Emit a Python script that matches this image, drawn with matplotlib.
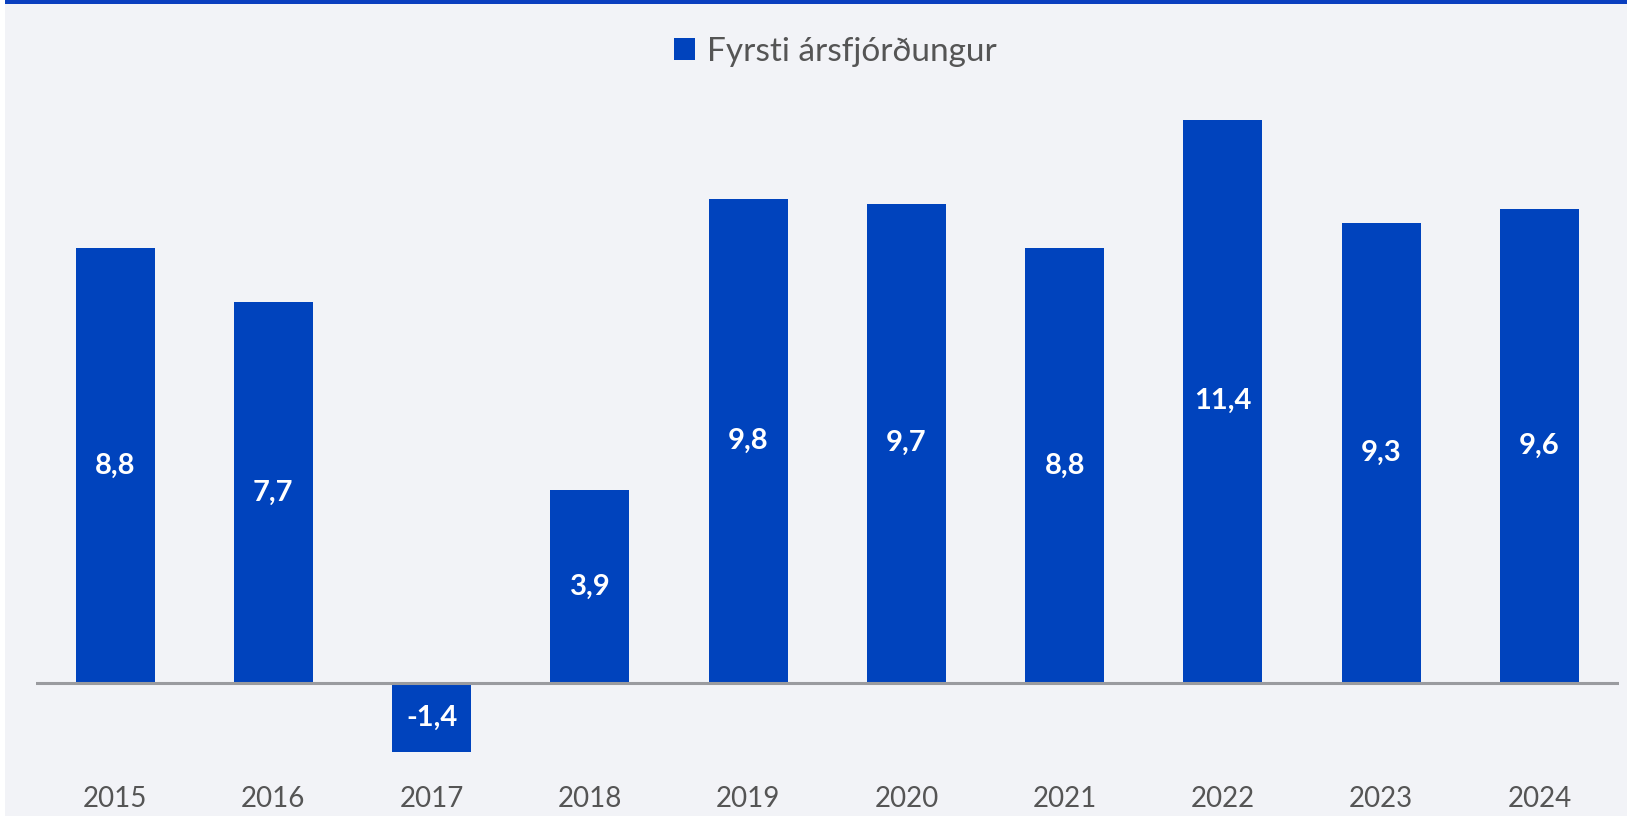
import matplotlib.pyplot as plt
from matplotlib.patches import Rectangle

years = ['2015', '2016', '2017', '2018', '2019', '2020', '2021', '2022', '2023', '2024']
values = [8.8, 7.7, -1.4, 3.9, 9.8, 9.7, 8.8, 11.4, 9.3, 9.6]
value_labels = ['8,8', '7,7', '-1,4', '3,9', '9,8', '9,7', '8,8', '11,4', '9,3', '9,6']
series_name = 'Fyrsti ársfjórðungur'

BAR = '#0043BD'
BG = '#F2F3F7'
TEXT = '#555555'

plt.rcParams['font.family'] = ['Lato', 'DejaVu Sans']


def plot():
    fig = plt.figure(figsize=(16.27, 8.16), dpi=100, facecolor=BG)
    ax = fig.add_axes([0.0221, 0.0711, 0.9727, 0.8186])
    ax.set_facecolor(BG)

    # decorations: white strip on the left, blue band on top
    fig.patches.append(Rectangle((0, 0), 5 / 1627, 1, transform=fig.transFigure,
                                 facecolor='white', edgecolor='none', zorder=0))
    fig.patches.append(Rectangle((5 / 1627, 1 - 4 / 816), 1, 4 / 816, transform=fig.transFigure,
                                 facecolor='#0A3FBF', edgecolor='none', zorder=0))

    x = range(len(years))
    bars = ax.bar(x, values, width=0.5, color=BAR, label=series_name, zorder=2)
    for bar, lab, v in zip(bars, value_labels, values):
        ax.text(bar.get_x() + bar.get_width() / 2, v / 2, lab, ha='center', va='center',
                color='white', fontsize=21, fontweight='bold', zorder=3)

    ax.axhline(0, color='#9A9B9F', linewidth=2.2, zorder=3)
    ax.set_xlim(-0.5, len(years) - 0.5)
    ax.set_ylim(-1.52, 12.0)
    ax.set_xticks(list(x))
    ax.set_xticklabels(years, fontsize=20, color=TEXT)
    ax.tick_params(axis='x', length=0, pad=20)
    ax.set_yticks([])
    for s in ax.spines.values():
        s.set_visible(False)

    ax.legend(loc='lower center', bbox_to_anchor=(0.505, 1.0), frameon=False,
              fontsize=24, labelcolor=TEXT, handlelength=0.65, handleheight=0.65,
              handletextpad=0.35, borderaxespad=0.3)

    plt.savefig('out.png', dpi=100, facecolor=BG)


def main():
    plot()


if __name__ == '__main__':
    main()
